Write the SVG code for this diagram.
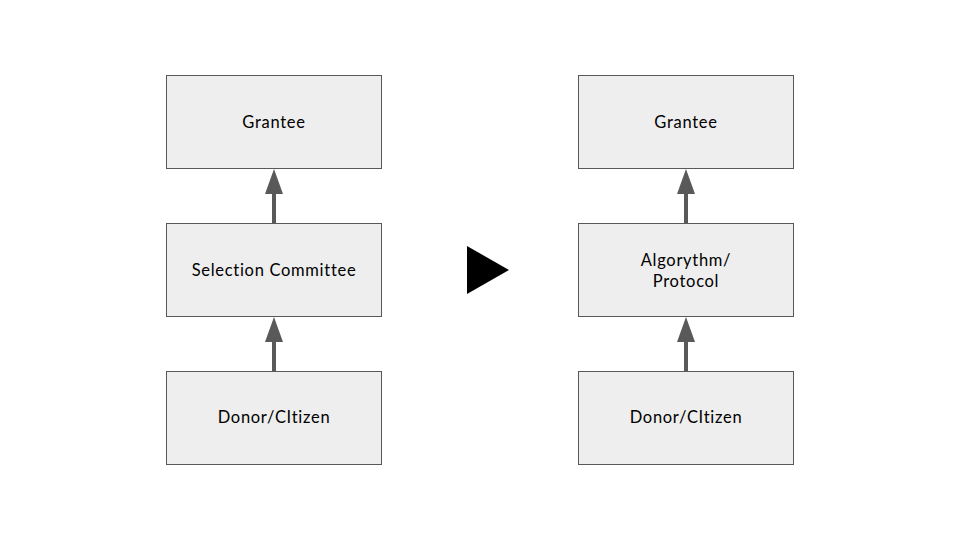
<svg xmlns="http://www.w3.org/2000/svg" width="960" height="540" viewBox="0 0 960 540">
<defs>
<style>
.box{fill:#eeeeee;stroke:#595959;stroke-width:1}
.lbl{font-family:Lato,"Liberation Sans",sans-serif;font-size:16.5px;letter-spacing:0.7px;fill:#000;text-anchor:middle}
.conn{stroke:#595959;stroke-width:4;fill:none}
.head{fill:#595959}
</style>
</defs>
<rect width="960" height="540" fill="#fff"/>
<g id="left-grantee"><rect class="box" x="166.5" y="75.5" width="215" height="93"/><text class="lbl" x="274" y="128">Grantee</text></g>
<g id="left-committee"><rect class="box" x="166.5" y="223.5" width="215" height="93"/><text class="lbl" x="274" y="276">Selection Committee</text></g>
<g id="left-donor"><rect class="box" x="166.5" y="371.5" width="215" height="93"/><text class="lbl" x="274" y="423">Donor/CItizen</text></g>
<g id="right-grantee"><rect class="box" x="578.5" y="75.5" width="215" height="93"/><text class="lbl" x="686" y="128">Grantee</text></g>
<g id="right-protocol"><rect class="box" x="578.5" y="223.5" width="215" height="93"/><text class="lbl" x="686" y="266">Algorythm/</text><text class="lbl" x="686" y="287">Protocol</text></g>
<g id="right-donor"><rect class="box" x="578.5" y="371.5" width="215" height="93"/><text class="lbl" x="686" y="423">Donor/CItizen</text></g>
<g id="transition"><polygon points="467,246 509,270 467,294" fill="#000"/></g>
<g id="connectors">
<line class="conn" x1="274" y1="223" x2="274" y2="192"/><polygon class="head" points="274,169 283,194 265,194"/>
<line class="conn" x1="274" y1="371" x2="274" y2="340"/><polygon class="head" points="274,317 283,342 265,342"/>
<line class="conn" x1="686" y1="223" x2="686" y2="192"/><polygon class="head" points="686,169 695,194 677,194"/>
<line class="conn" x1="686" y1="371" x2="686" y2="340"/><polygon class="head" points="686,317 695,342 677,342"/>
</g>
</svg>
